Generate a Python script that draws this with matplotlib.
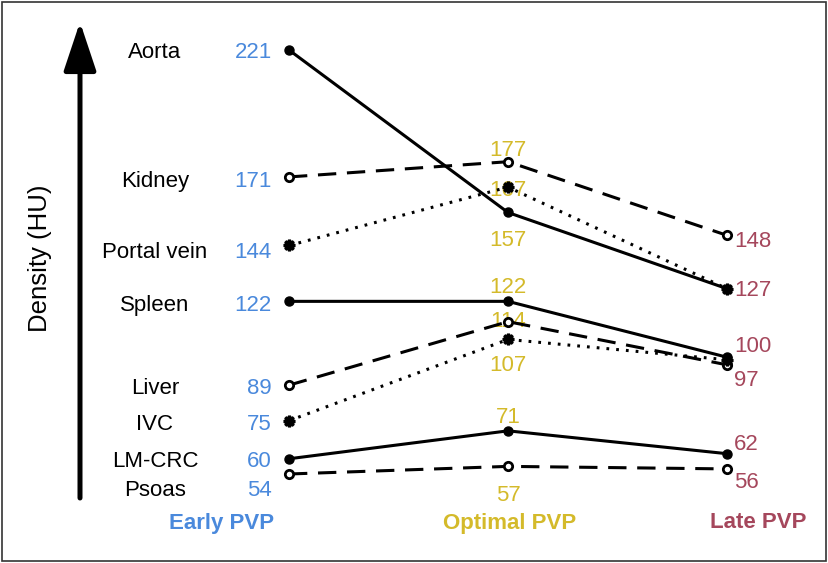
import matplotlib
matplotlib.use("Agg")
import matplotlib.pyplot as plt
from matplotlib.patches import Rectangle

plt.rcParams['font.family'] = ['Liberation Sans', 'DejaVu Sans']

# data (HU)
organs = ["Aorta", "Kidney", "Portal vein", "Spleen", "Liver", "IVC", "LM-CRC", "Psoas"]
early = [221, 171, 144, 122, 89, 75, 60, 54]
optimal = [157, 177, 167, 122, 114, 107, 71, 57]
late = [127, 148, 127, 100, 97, 99, 62, 56]
phases = ["Early PVP", "Optimal PVP", "Late PVP"]

# styles
styles = ["solid", "dashed", "dotted", "solid", "dashed", "dotted", "solid", "dashed"]
c_early, c_opt, c_late = "#4A89DC", "#D4BA2A", "#A5475C"
# label offsets in pixels (y down positive)
early_dy = [0, 2, 4, 1, 0, 1, 0, 13]
opt_dy = [25, -14, 0, -17, -3, 23, -16, 26]
late_dy = [-1, 3, None, -14, 13, None, -12, 11]
base = 3  # glyphs sit a bit low compared with va=center
fs = 16

W, H = 829, 563
fig = plt.figure(figsize=(W / 100, H / 100), dpi=100)
ax = fig.add_axes([0, 0, 1, 1])
# map data onto pixel layout: x=0 -> 289px, x=2 -> 727px ; 221 HU -> 50px, 54 HU -> 474px
xs = 219.0
ys = (474 - 50) / (221 - 54)
ax.set_xlim(-289 / xs, (W - 289) / xs)
ax.set_ylim(221 - (H - 50) / ys, 221 + 50 / ys)
ax.axis("off")

pt = 0.72  # px -> pt
for i, name in enumerate(organs):
    yv = [early[i], optimal[i], late[i]]
    st = styles[i]
    if st == "solid":
        ls = "-"
        mk = dict(marker="o", markersize=6.5, markerfacecolor="black", markeredgecolor="black")
    elif st == "dashed":
        ls = (0, (6, 3.5))
        mk = dict(marker="o", markersize=6, markerfacecolor="white", markeredgecolor="black",
                  markeredgewidth=2)
    else:
        ls = (0, (0.9, 2.3))
        mk = dict(marker=(8, 1, 0), markersize=8, markerfacecolor="black",
                  markeredgecolor="black", markeredgewidth=2.2)
    ax.plot([0, 1, 2], yv, color="black", lw=2.2, linestyle=ls, zorder=2, **mk)

    ax.annotate(name, (0, early[i]), xytext=(-134 * pt, -(early_dy[i] + base) * pt),
                textcoords="offset points", ha="center", va="center",
                fontsize=fs, color="black")
    ax.annotate(str(early[i]), (0, early[i]), xytext=(-17 * pt, -(early_dy[i] + base) * pt),
                textcoords="offset points", ha="right", va="center",
                fontsize=fs, color=c_early)
    ax.annotate(str(optimal[i]), (1, optimal[i]), xytext=(0, -(opt_dy[i] + base) * pt),
                textcoords="offset points", ha="center", va="center",
                fontsize=fs, color=c_opt, zorder=1)
    if late_dy[i] is not None:
        ax.annotate(str(late[i]), (2, late[i]), xytext=(7 * pt, -(late_dy[i] + base) * pt),
                    textcoords="offset points", ha="left", va="center",
                    fontsize=fs, color=c_late)

# phase labels
for px, lab, col in zip([222, 510, 758], phases, [c_early, c_opt, c_late]):
    fig.text(px / W, 1 - 523 / H, lab, ha="center", va="center", fontsize=fs,
             fontweight="bold", color=col)

# axis arrow and title
ax.annotate("", xy=(80, H - 22), xytext=(80, H - 498), xycoords="figure pixels",
            textcoords="figure pixels",
            arrowprops=dict(arrowstyle="-|>,head_length=1.5,head_width=0.5", lw=3.6,
                            color="black", mutation_scale=20, shrinkA=0, shrinkB=0))
fig.text(40 / W, 1 - 258 / H, "Density (HU)", rotation=90, ha="center", va="center",
         fontsize=18.5, color="black")

fig.patches.append(Rectangle((0.002, 0.003), 0.994, 0.994, transform=fig.transFigure,
                             fill=False, edgecolor="#333333", lw=1.2))

fig.savefig("out.png", dpi=100)
